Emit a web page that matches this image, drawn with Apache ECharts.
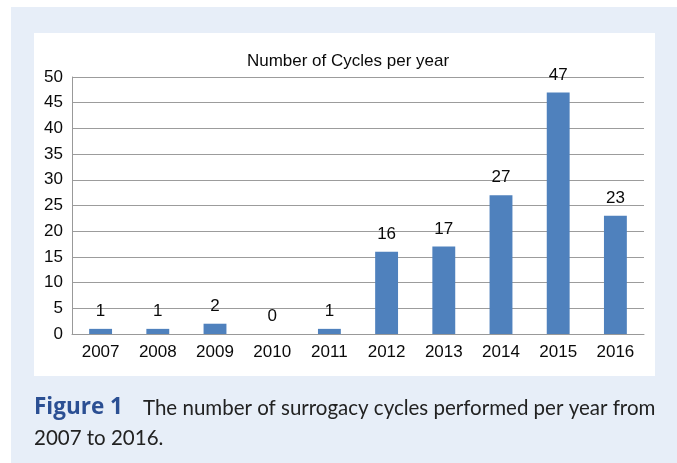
<!DOCTYPE html>
<html>
<head>
<meta charset="utf-8">
<script src="https://cdn.jsdelivr.net/npm/echarts@6/dist/echarts.min.js"></script>
<style>
html,body{margin:0;padding:0;background:#fff;}
#chart{width:677px;height:463px;}
</style>
</head>
<body>
<div id="chart"></div>
<script>
const years = ['2007','2008','2009','2010','2011','2012','2013','2014','2015','2016'];
const cycles = [1, 1, 2, 0, 1, 16, 17, 27, 47, 23];
const yTicks = {min: 0, max: 50, interval: 5};
const chartTitle = 'Number of Cycles per year';
const captionLabel = 'Figure 1';
const captionLine1 = 'The number of surrogacy cycles performed per year from';
const captionLine2 = '2007 to 2016.';

const chart = echarts.init(document.getElementById('chart'), null, {renderer: 'canvas'});
chart.setOption({
  backgroundColor: '#ffffff',
  animation: false,
  graphic: [
    {type: 'rect', z: -10, shape: {x: 11, y: 7, width: 666, height: 456}, style: {fill: '#e7eef8'}},
    {type: 'rect', z: -9, shape: {x: 34, y: 33, width: 621, height: 343}, style: {fill: '#ffffff'}},
    {type: 'text', x: 34, y: 408, style: {
      text: captionLabel, font: 'bold 22.5px "Open Sans"', fill: '#2b4f93', verticalAlign: 'middle'
    }},
    {type: 'text', x: 143, y: 408, style: {
      text: captionLine1, font: '20.5px Lato', fill: '#222222', verticalAlign: 'middle'
    }},
    {type: 'text', x: 34, y: 438, style: {
      text: captionLine2, font: '20.5px Lato', fill: '#222222', verticalAlign: 'middle'
    }}
  ],
  title: {
    text: chartTitle, left: 343, top: 48, textAlign: 'center',
    textStyle: {fontFamily: 'Liberation Sans', fontSize: 17, fontWeight: 'normal', color: '#0a0a0a'}
  },
  grid: {left: 72, right: 33, top: 77, bottom: 129, containLabel: false},
  xAxis: {
    type: 'category', data: years,
    axisLine: {lineStyle: {color: '#999999', width: 1}},
    axisTick: {show: false},
    axisLabel: {fontFamily: 'Liberation Sans', fontSize: 17, color: '#0a0a0a', margin: 10}
  },
  yAxis: {
    type: 'value', min: yTicks.min, max: yTicks.max, interval: yTicks.interval,
    axisLine: {show: true, lineStyle: {color: '#999999', width: 1}},
    axisTick: {show: false},
    splitLine: {lineStyle: {color: '#9c9c9c', width: 1}},
    axisLabel: {fontFamily: 'Liberation Sans', fontSize: 17, color: '#0a0a0a', margin: 9}
  },
  series: [{
    type: 'bar', data: cycles, barWidth: '40%',
    itemStyle: {color: '#4f81bd'},
    label: {show: true, position: 'top', distance: 9, fontFamily: 'Liberation Sans', fontSize: 17, color: '#0a0a0a'}
  }]
});
</script>
</body>
</html>
